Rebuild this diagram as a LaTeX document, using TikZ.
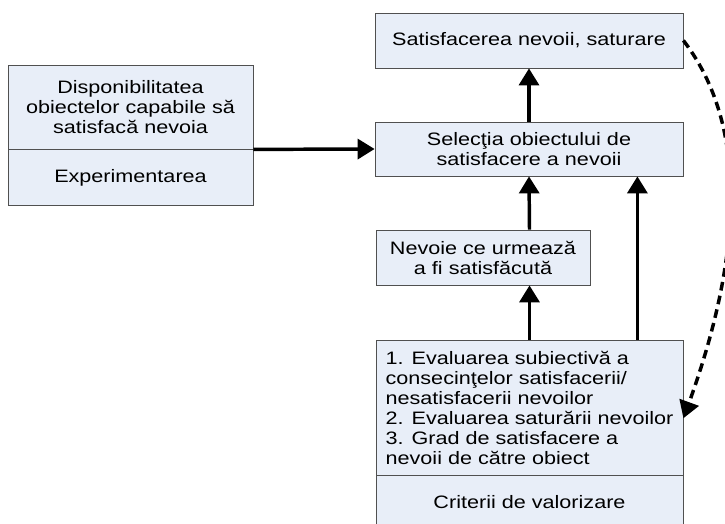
\documentclass[tikz,border=0pt]{standalone}
\usepackage{fontspec}
\setmainfont{Liberation Sans}[FakeStretch=1.2]
\usetikzlibrary{arrows.meta}
\definecolor{boxfill}{RGB}{232,238,248}
\definecolor{boxline}{RGB}{80,80,80}

\begin{document}
\begin{tikzpicture}
  [x=0.75pt,y=-0.75pt,
   every node/.style={draw=boxline,fill=boxfill,line width=0.6pt,inner sep=0pt,align=center,
                      font=\fontsize{13.5pt}{15pt}\selectfont},
   flow/.style={line width=2.6pt,-{Triangle[length=12.75pt,width=15pt]}},
   back/.style={flow,line width=2.6pt,dash pattern=on 6.5pt off 4pt}]
  \useasboundingbox (0,0) rectangle (725,524);
  \clip (0,0) rectangle (725,524);
  \node (disp)[minimum width=183.75pt,minimum height=63pt] at (130.5,107) {Disponibilitatea\\
  									obiectelor capabile să\\
  									satisfacă nevoia};
  \node (exper)[minimum width=183.75pt,minimum height=42pt,anchor=north] at (disp.south) {Experimentarea};
  \node (sat)[minimum width=231pt,minimum height=41.25pt] at (529,40.5) {Satisfacerea nevoii, saturare};
  \node (sel)[minimum width=231pt,minimum height=40.5pt] at (529,149) {Selecţia obiectului de\\
  									satisfacere a nevoii};
  \node (nev)[minimum width=160.5pt,minimum height=41.25pt] at (483,257.5) {Nevoie ce urmează\\
  									a fi satisfăcută};
  \node (eval)[minimum width=230.25pt,minimum height=101.25pt,align=left] at (529.5,407.5) {1. Evaluarea subiectivă a\\
  									consecinţelor satisfacerii/\\
  									nesatisfacerii nevoilor\\
  									2. Evaluarea saturării nevoilor\\
  									3. Grad de satisfacere a\\
  									nevoii de către obiect};
  \node (crit)[minimum width=230.25pt,minimum height=39pt,anchor=north] at (eval.south) {Criterii de valorizare};
  \draw[flow] (disp.south east) -- (sel.west);
  \draw[flow] (sel.north) -- (sat.south);
  \draw[flow] (eval.north) -- (eval.north |- nev.south);
  \draw[flow] (eval.north |- nev.north) -- (sel.south);
  \draw[flow] ([xshift=-34.5pt]eval.north east) -- ([xshift=-34.5pt]sel.south east);
  \draw[back] (sat.east) .. controls (760,140) and (730,290) .. (eval.-4);
\end{tikzpicture}
\end{document}
